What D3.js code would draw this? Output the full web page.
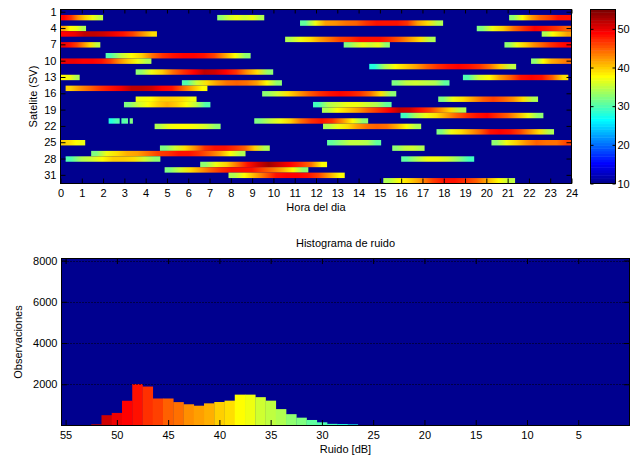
<!DOCTYPE html>
<html><head><meta charset="utf-8">
<script src="https://cdn.jsdelivr.net/npm/d3@7"></script>
<style>
body{margin:0;background:#fff}
svg{display:block}
text{font-family:"Liberation Sans",Arial,sans-serif;font-size:11px;fill:#000}
</style></head><body>
<svg id="c" width="640" height="456"></svg>
<script>
// ---------- data ----------
const hourTicks = d3.range(0, 25);
const satTicks = [1, 4, 7, 10, 13, 16, 19, 22, 25, 28, 31];
const satellites = d3.range(1, 33);
const cbTicks = [10, 20, 30, 40, 50];
const colorLimits = [10, 55];

// satellite passes: satellite, start hour, end hour, noise samples (dB) along the pass
const passSat   = [2,2,2,3,4,4,5,5,6,7,7,7,9,10,10,11,12,13,13,14,14,15,16,17,17,18,18,19,20,21,21,21,21,22,22,23,25,25,25,26,26,27,28,28,29,30,31,32];
const passStart = [0,7.36,21.07,11.25,0,19.55,0,22.6,10.55,0,13.3,20.85,2.12,0,22.1,14.5,3.53,0,18.9,5.7,15.55,0.24,9.47,3.53,17.74,2.98,11.86,12.28,15.97,2.26,2.86,3.25,9.1,4.42,12.33,17.66,0,12.52,20.24,4.67,15.58,1.44,0.24,16.0,6.56,4.89,7.89,15.16];
const passEnd   = [2.0,9.57,24,17.97,1.2,24,4.53,24,17.62,1.87,15.47,24,8.93,4.27,24,21.4,9.99,0.9,23.85,10.4,18.27,6.9,15.77,6.39,22.43,7.04,15.55,19.06,22.68,2.78,3.17,3.4,14.45,7.52,16.94,23.18,1.16,15.06,24,9.83,17.1,8.69,4.69,19.43,12.52,11.64,13.35,21.35];
const passVals = [
  [49,47,43,40,37,35],
  [33,36,37,36,37,34],
  [33,38,42,45,46,48,48],
  [31,37,42,43,44,45,47,48,48,48,47,42,39,34],
  [42,38,37,34],
  [32,37,40,44,47,49,48,47,45],
  [49,50,52,52,51,50,48,46,43,39],
  [34,38,40,42],
  [34,37,39,42,44,46,47,48,48,48,47,45,42,39,34],
  [50,48,46,43,39,35],
  [32,35,37,36,37,33],
  [33,37,40,43,45,47,48,49],
  [30,35,38,40,44,47,48,49,49,48,46,42,38,33],
  [50,50,49,49,48,46,43,40,37,34],
  [33,38,41,43,44],
  [28,34,38,40,42,45,47,48,49,48,47,44,40,35],
  [33,37,40,44,47,49,52,51,49,47,43,39,33],
  [38,37,34],
  [30,36,38,42,45,48,49,48,45,39],
  [30,36,39,42,44,45,44,42,38,33],
  [32,35,36,35,34,31],
  [40,43,45,47,48,50,52,52,51,49,48,45,41,38],
  [33,36,39,42,45,47,48,49,48,47,44,39,33],
  [37,38,40,40,39,37],
  [32,37,39,42,45,46,45,43,39,34],
  [32,36,38,40,41,40,38,35,30],
  [29,34,36,37,37,36,34,31],
  [34,38,40,42,45,47,49,52,51,48,46,43,39,34],
  [29,34,37,39,42,45,47,48,49,47,45,41,37,33],
  [28,30],
  [30,31],
  [32],
  [32,35,37,40,44,47,48,47,43,38,33],
  [34,37,38,38,37,36,33],
  [34,37,39,42,44,45,44,41,38,34],
  [32,37,39,42,45,48,49,48,46,43,39,34],
  [40,39,38,37],
  [31,33,35,35,34,31],
  [33,37,40,43,45,44,44,46],
  [32,36,39,43,47,48,48,47,45,40,34],
  [33,35,36,34],
  [32,37,39,41,42,44,46,47,48,48,47,45,42,38,34],
  [30,34,36,38,40,40,39,36,33],
  [31,34,37,37,36,33,29],
  [33,37,40,44,48,51,53,51,49,47,44,38],
  [32,36,39,42,45,47,48,48,48,46,44,41,38,33],
  [34,38,41,45,48,49,49,48,46,42,38],
  [34,38,40,43,46,48,48,47,45,41,38,35]
];

// histogram
const histBins   = [52,51,50,49,48,47,46,45,44,43,42,41,40,39,38,37,36,35,34,33,32,31,30,29,28,27];
const histCounts = [60,500,610,1200,2010,1890,1310,1310,1135,1030,960,1075,1140,1205,1497,1497,1375,1205,795,550,380,268,155,80,70,55];
const histXTicks = [55,50,45,40,35,30,25,20,15,10,5];
const histYTicks = [2000,4000,6000,8000];

// ---------- MATLAB jet(64) ----------
function jet64(){
  const m=64,n=16,u=[];
  for(let i=1;i<=n;i++)u.push(i/n);
  for(let i=0;i<n-1;i++)u.push(1);
  for(let i=n;i>=1;i--)u.push(i/n);
  const L=u.length, J=Array.from({length:m},()=>[0,0,0]);
  const bs=[];
  for(let k=0;k<L;k++){
    const g=9+k, r=g+n, b=g-n;
    if(g<=m) J[g-1][1]=u[k];
    if(r<=m) J[r-1][0]=u[k];
    if(b>=1) bs.push(b);
  }
  bs.forEach((b,i)=>{J[b-1][2]=u[L-bs.length+i];});
  return J.map(c=>d3.rgb(Math.round(c[0]*255),Math.round(c[1]*255),Math.round(c[2]*255)).formatHex());
}
const cmap = jet64();
const color = d3.scaleQuantize().domain(colorLimits).range(cmap);

const svg = d3.select("#c");
const defs = svg.append("defs");

function styleAxis(g){
  g.attr("font-size",null).attr("font-family",null);
  g.select(".domain").remove();
  g.selectAll(".tick line").attr("stroke","#000");
  g.selectAll(".tick text").attr("fill","#000");
  return g;
}

// ---------- top heatmap ----------
const X0=60.5,X1=571.5,Y0=9.5,Y1=183.5;
const x = d3.scaleLinear().domain([0,24]).range([X0,X1]);
const y = d3.scaleBand().domain(satellites).range([Y0,Y1]);

const topG = svg.append("g");
topG.append("rect").attr("x",X0).attr("y",Y0).attr("width",X1-X0).attr("height",Y1-Y0).attr("fill",cmap[0]);

const passes = passSat.map((s,i)=>({sat:s,start:passStart[i],end:passEnd[i],vals:passVals[i],id:"p"+i}));
passes.forEach(p=>{
  const gr = defs.append("linearGradient").attr("id",p.id).attr("x1",0).attr("x2",1).attr("y1",0).attr("y2",0);
  const n=p.vals.length;
  p.vals.forEach((v,k)=>{
    gr.append("stop").attr("offset",n===1?0.5:((k+0.5)/n)).attr("stop-color",color(v));
  });
});
topG.selectAll("rect.pass").data(passes).join("rect")
  .attr("class","pass")
  .attr("x",d=>x(d.start)).attr("width",d=>x(d.end)-x(d.start))
  .attr("y",d=>y(d.sat)).attr("height",y.bandwidth())
  .attr("fill",d=>`url(#${d.id})`);

topG.append("g").attr("transform",`translate(0,${Y1})`)
  .call(d3.axisBottom(x).tickValues(hourTicks).tickSize(-5).tickPadding(6).tickFormat(d3.format("d"))).call(styleAxis);
topG.append("g").attr("transform",`translate(0,${Y0})`)
  .call(d3.axisTop(x).tickValues(hourTicks).tickSize(-4).tickFormat("")).call(styleAxis);
topG.append("g").attr("transform",`translate(${X0},0)`)
  .call(d3.axisLeft(y).tickValues(satTicks).tickSize(-5).tickPadding(4)).call(styleAxis);
topG.append("g").attr("transform",`translate(${X1},0)`)
  .call(d3.axisRight(y).tickValues(satTicks).tickSize(-5).tickFormat("")).call(styleAxis);
topG.append("rect").attr("x",X0).attr("y",Y0).attr("width",X1-X0).attr("height",Y1-Y0)
  .attr("fill","none").attr("stroke","#000").attr("shape-rendering","crispEdges");
topG.append("text").attr("x",(X0+X1)/2).attr("y",211).attr("text-anchor","middle").text("Hora del dia");
topG.append("text").attr("transform",`translate(37,${(Y0+Y1)/2}) rotate(-90)`).attr("text-anchor","middle").text("Satelite (SV)");

// ---------- colorbar ----------
const C0=590.5,C1=615.5;
const cy = d3.scaleLinear().domain(colorLimits).range([Y1,Y0]);
const cbCells = cmap.map((c,i)=>({c,lo:colorLimits[0]+(colorLimits[1]-colorLimits[0])*i/cmap.length,hi:colorLimits[0]+(colorLimits[1]-colorLimits[0])*(i+1)/cmap.length}));
const cb = svg.append("g");
cb.selectAll("rect").data(cbCells).join("rect")
  .attr("x",C0).attr("width",C1-C0)
  .attr("y",d=>cy(d.hi)).attr("height",d=>cy(d.lo)-cy(d.hi)+0.5)
  .attr("fill",d=>d.c);
cb.append("g").attr("transform",`translate(${C1},0)`)
  .call(d3.axisRight(cy).tickValues(cbTicks).tickSize(-3).tickPadding(2)).call(styleAxis);
cb.append("g").attr("transform",`translate(${C0},0)`)
  .call(d3.axisLeft(cy).tickValues(cbTicks).tickSize(-3).tickFormat("")).call(styleAxis);
cb.append("rect").attr("x",C0).attr("y",Y0).attr("width",C1-C0).attr("height",Y1-Y0)
  .attr("fill","none").attr("stroke","#000").attr("shape-rendering","crispEdges");

// ---------- histogram ----------
const H0=61.5,H1=629.5,V0=258.5,V1=425.5;
const hx = d3.scaleLinear().domain([55.4,0]).range([H0,H1]);
const hy = d3.scaleLinear().domain([0,8100]).range([V1,V0]);
const hist = svg.append("g");
hist.append("rect").attr("x",H0).attr("y",V0).attr("width",H1-H0).attr("height",V1-V0).attr("fill",cmap[0]);
const histData = histBins.map((b,i)=>({b,c:histCounts[i]}));
hist.selectAll("rect.bar").data(histData).join("rect").attr("class","bar")
  .attr("x",d=>hx(d.b+0.5)).attr("width",d=>hx(d.b-0.5)-hx(d.b+0.5)+0.3)
  .attr("y",d=>hy(d.c)).attr("height",d=>hy(0)-hy(d.c))
  .attr("fill",d=>color(d.b));
hist.selectAll("line.grid").data(histYTicks).join("line").attr("class","grid")
  .attr("x1",H0).attr("x2",H1).attr("y1",d=>Math.round(hy(d))+0.5).attr("y2",d=>Math.round(hy(d))+0.5)
  .attr("stroke","#000").attr("stroke-dasharray","1,2");
hist.append("g").attr("transform",`translate(0,${V1})`)
  .call(d3.axisBottom(hx).tickValues(histXTicks).tickSize(-5.5).tickPadding(6).tickFormat(d3.format("d"))).call(styleAxis);
hist.append("g").attr("transform",`translate(0,${V0})`)
  .call(d3.axisTop(hx).tickValues(histXTicks).tickSize(-5.5).tickFormat("")).call(styleAxis);
hist.append("g").attr("transform",`translate(${H0},0)`)
  .call(d3.axisLeft(hy).tickValues(histYTicks).tickSize(-5.5).tickPadding(4).tickFormat(d3.format("d"))).call(styleAxis);
hist.append("g").attr("transform",`translate(${H1},0)`)
  .call(d3.axisRight(hy).tickValues(histYTicks).tickSize(-5.5).tickFormat("")).call(styleAxis);
hist.append("rect").attr("x",H0).attr("y",V0).attr("width",H1-H0).attr("height",V1-V0)
  .attr("fill","none").attr("stroke","#000").attr("shape-rendering","crispEdges");
hist.append("text").attr("x",(H0+H1)/2).attr("y",247).attr("text-anchor","middle").text("Histograma de ruido");
hist.append("text").attr("x",(H0+H1)/2).attr("y",453).attr("text-anchor","middle").text("Ruido [dB]");
hist.append("text").attr("transform",`translate(22,${(V0+V1)/2}) rotate(-90)`).attr("text-anchor","middle").text("Observaciones");
</script></body></html>
